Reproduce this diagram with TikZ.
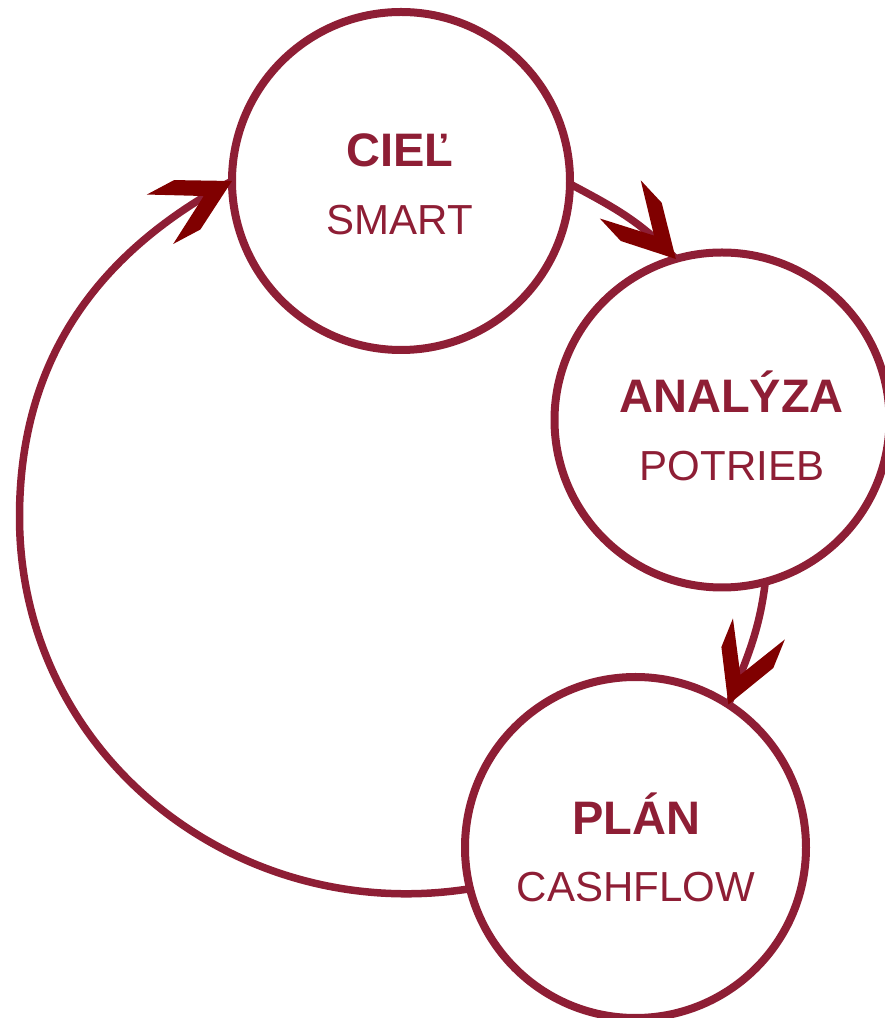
\documentclass[tikz,border=0pt]{standalone}
\usepackage{fontspec}
\setmainfont{Liberation Sans}
\usetikzlibrary{decorations.markings}
\definecolor{maroon}{RGB}{142,30,53}
\definecolor{arrowred}{RGB}{128,0,0}
\tikzset{
  stage/.style={circle, draw=maroon, line width=8pt, minimum size=#1, inner sep=0pt, outer sep=0pt},
  titletext/.style={anchor=base, text=maroon, font=\bfseries\fontsize{47}{56}\selectfont, inner sep=0pt},
  subtext/.style={anchor=base, text=maroon, font=\fontsize{42}{50}\selectfont, inner sep=0pt},
  conn/.style={draw=maroon, line width=7.5pt, postaction={decorate},
    decoration={markings, mark=at position 1 with {
      \fill[arrowred] (0,0) -- (-50.7,28) -- (-81.5,28) -- (-32,0) -- (-81.5,-28) -- (-50.7,-28) -- cycle;}}}
}
\begin{document}
\begin{tikzpicture}[x=1pt,y=1pt]
\useasboundingbox (0,0) rectangle (885,1018);
% circles
\node[stage=338] (ciel) at (401,837) {};
\node[stage=335] (analyza) at (722,598) {};
\node[stage=341] (plan) at (635.5,170.5) {};
% texts
\node[titletext] (cielt) at (400,851) {CIEĽ};
\node[subtext] (cields) at (400,783) {SMART};
\node[titletext] (analyzat) at (731.5,605) {ANALÝZA};
\node[subtext] (analyzas) at (732,537) {POTRIEB};
\node[titletext] (plant) at (636,183) {PLÁN};
\node[subtext] (plans) at (636,116) {CASHFLOW};
% connectors
\coordinate (lft) at (19.5,501);
\draw[conn] (ciel.-1) to[out=-28,in=133] (analyza.106);
\draw[conn] (analyza.-75) to[out=-97,in=68] (plan.57);
\draw[conn] (plan.-166) to[out=-171,in=-90,looseness=1.04] (lft) to[out=90,in=-152] (ciel.180);
\end{tikzpicture}
\end{document}
